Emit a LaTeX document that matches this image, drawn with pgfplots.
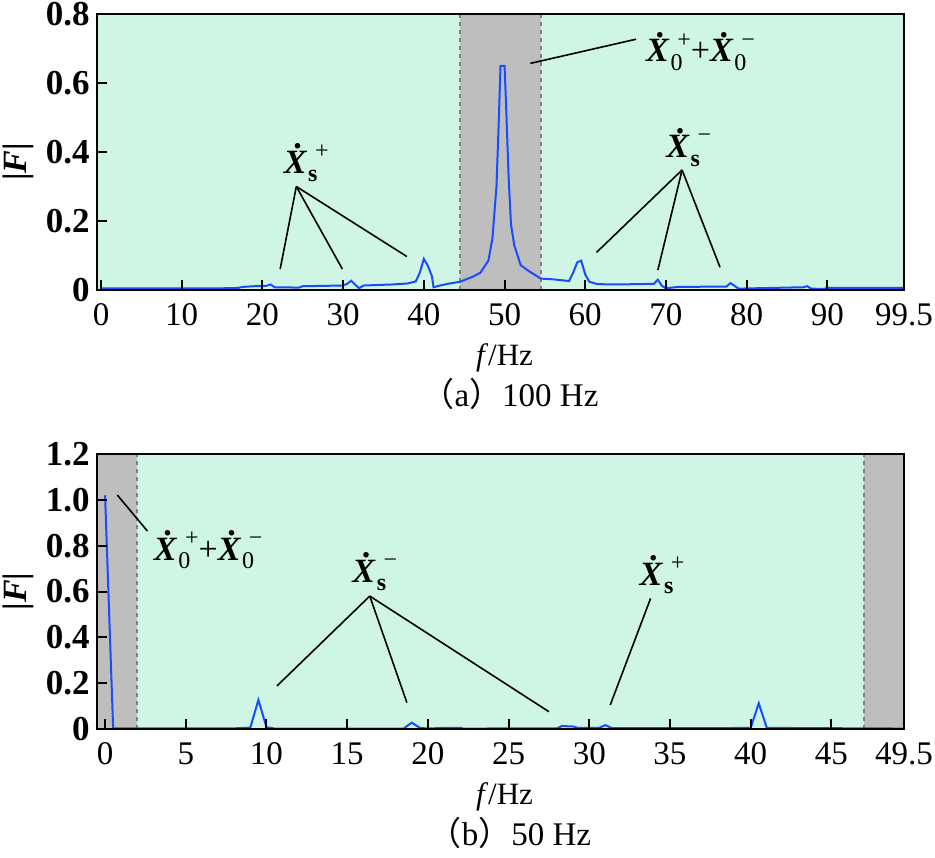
\documentclass[border=0pt]{standalone}
\usepackage{pgfplots}
\pgfplotsset{compat=1.18}
\usepackage{fontspec}
\setmainfont{Liberation Serif}
\newfontfamily\cjk{Noto Sans CJK SC}
\definecolor{mint}{RGB}{207,245,228}
\definecolor{band}{RGB}{190,190,190}
\definecolor{dashc}{RGB}{128,128,128}
\definecolor{specblue}{RGB}{25,75,255}
\newcommand{\Xdot}{\ooalign{\textbf{\textit{X}}\cr\hidewidth\hspace{0.12em}\raisebox{0.72em}{\textbf{.}}\hidewidth\cr}}
\newcommand{\SX}[2]{\Xdot\kern0.03em\rlap{\raisebox{-0.26em}{\fontsize{12}{12}\selectfont #1}}\kern0.2em\raisebox{0.44em}{\fontsize{12}{12}\selectfont #2}}
\newcommand{\ann}{\fontsize{17}{20}\selectfont}
\newcommand{\mn}{\char"2212}
\tikzset{
  spec/.style={specblue, line width=1pt},
  annl/.style={black, line width=0.8pt},
  dsh/.style={dashc, line width=0.9pt, dash pattern=on 2pt off 2pt},
}
\pgfplotsset{
  myax/.style={
    scale only axis, width=403.5pt,
    axis background/.style={fill=mint},
    axis on top, clip=false,
    axis line style={line width=1.3pt},
    tick align=inside, xtick pos=lower, ytick pos=left,
    major tick length=5pt,
    tick style={black, line width=1pt},
    /pgf/number format/assume math mode=true,
    xticklabel style={font=\fontsize{16.5}{18}\selectfont, inner sep=0pt, yshift=-6.5pt},
    yticklabel style={font=\bfseries\fontsize{17.5}{20}\selectfont, inner sep=0pt, xshift=-3.5pt},
    xlabel={\textit{f}/Hz},
    xlabel style={at={(axis description cs:0.5,0)}, anchor=base, xshift=2pt, yshift=-37.5pt, font=\fontsize{15.5}{18}\selectfont},
    ylabel={\textbf{|\textit{F}|}},
    ylabel style={anchor=center, font=\fontsize{17}{20}\selectfont},
  },
}
\pgfplotstableread{
f v
0 0.005
5 0.005
10 0.005
15 0.005
17 0.006
17.5 0.009
19 0.011
20.5 0.012
21 0.016
21.5 0.008
24.5 0.007
25 0.011
30 0.013
30.5 0.018
31 0.027
31.5 0.015
32 0.005
32.5 0.013
36 0.016
38 0.019
39 0.025
39.5 0.05
40 0.09
40.5 0.07
41 0.04
41.2 0.008
42 0.013
43 0.018
44.5 0.024
46 0.038
47 0.05
48 0.085
48.5 0.15
49 0.30
49.3 0.50
49.5 0.65
50 0.65
50.2 0.53
50.5 0.33
50.8 0.19
51.2 0.13
52 0.072
53 0.055
54.5 0.033
56 0.031
58 0.026
58.5 0.05
59 0.08
59.5 0.085
60 0.045
60.5 0.024
61.5 0.017
64 0.016
68.5 0.018
69 0.03
69.5 0.012
70 0.005
71.5 0.009
77.5 0.010
78 0.02
78.5 0.012
79 0.004
87 0.008
87.5 0.011
88 0.004
89.5 0.003
90 0.006
99.5 0.006
}\dataA
\pgfplotstableread{
f v
0 1.02
0.5 0.003
8 0.003
9 0.006
9.5 0.127
10 0.008
10.5 0.002
18.5 0.002
19 0.028
19.5 0.005
20 0.002
21 0.005
22 0.005
22.2 0.002
28 0.003
28.3 0.013
29 0.011
29.3 0.005
30.6 0.005
31 0.017
31.4 0.004
38 0.004
40 0.005
40.5 0.112
41 0.005
49.5 0.002
}\dataB
\begin{document}
\begin{tikzpicture}
\useasboundingbox (0,0) rectangle (467.5pt,-428.5pt);
% ---------------- (a) ----------------
\begin{axis}[myax, at={(48.5pt,-145pt)}, anchor=south west, height=138pt,
  xmin=-0.5, xmax=99.5, ymin=0, ymax=0.8,
  xtick={0,10,20,30,40,50,60,70,80,90,99.5},
  xticklabels={0,10,20,30,40,50,60,70,80,90,99.5},
  ytick={0,0.2,0.4,0.6,0.8}, yticklabels={0,0.2,0.4,0.6,0.8},
  ylabel style={at={(axis description cs:-0.098,0.465)}},
]
\fill[band] (44.5,0) rectangle (54.5,0.8);
\draw[dsh] (44.5,0) -- (44.5,0.8);
\draw[dsh] (54.5,0) -- (54.5,0.8);
\addplot[spec] table[x=f,y=v] {\dataA};
\draw[annl] (24.2,0.30) -- (22.2,0.061);
\draw[annl] (24.2,0.30) -- (29.9,0.061);
\draw[annl] (24.2,0.30) -- (37.9,0.097);
\node[anchor=base west, font=\ann, inner sep=0pt] at (22.6,0.339) {\SX{\textbf{s}}{+}};
\draw[annl] (53.2,0.657) -- (66.3,0.727);
\node[anchor=base west, font=\ann, inner sep=0pt] at (67.5,0.661) {\SX{0}{+}+\SX{0}{\mn}};
\draw[annl] (72.0,0.348) -- (61.4,0.109);
\draw[annl] (72.0,0.348) -- (69.0,0.058);
\draw[annl] (72.0,0.348) -- (76.7,0.066);
\node[anchor=base west, font=\ann, inner sep=0pt] at (70.0,0.383) {\SX{\textbf{s}}{\mn}};
\end{axis}
\node[anchor=base, font=\fontsize{16.5}{18}\selectfont] at (255pt,-203pt) {{\cjk （}a{\cjk ）}100 Hz};
% ---------------- (b) ----------------
\begin{axis}[myax, at={(48.5pt,-364.5pt)}, anchor=south west, height=137.5pt,
  xmin=-0.5, xmax=49.5, ymin=0, ymax=1.2,
  xtick={0,5,10,15,20,25,30,35,40,45,49.5},
  xticklabels={0,5,10,15,20,25,30,35,40,45,49.5},
  ytick={0,0.2,0.4,0.6,0.8,1.0,1.2}, yticklabels={0,0.2,0.4,0.6,0.8,1.0,1.2},
  ylabel style={at={(axis description cs:-0.098,0.5)}},
]
\fill[band] (-0.5,0) rectangle (2,1.2);
\fill[band] (47,0) rectangle (49.5,1.2);
\draw[dsh] (2,0) -- (2,1.2);
\draw[dsh] (47,0) -- (47,1.2);
\addplot[spec] table[x=f,y=v] {\dataB};
\draw[annl] (0.76,1.021) -- (2.62,0.864);
\node[anchor=base west, font=\ann, inner sep=0pt] at (3.0,0.737) {\SX{0}{+}+\SX{0}{\mn}};
\draw[annl] (16.4,0.580) -- (10.65,0.188);
\draw[annl] (16.4,0.580) -- (18.7,0.115);
\draw[annl] (16.4,0.580) -- (27.5,0.0755);
\node[anchor=base west, font=\ann, inner sep=0pt] at (15.3,0.641) {\SX{\textbf{s}}{\mn}};
\draw[annl] (33.8,0.570) -- (31.3,0.105);
\node[anchor=base west, font=\ann, inner sep=0pt] at (33.1,0.628) {\SX{\textbf{s}}{+}};
\end{axis}
\node[anchor=base, font=\fontsize{16.5}{18}\selectfont] at (255pt,-422.5pt) {{\cjk （}b{\cjk ）}50 Hz};
\end{tikzpicture}
\end{document}
